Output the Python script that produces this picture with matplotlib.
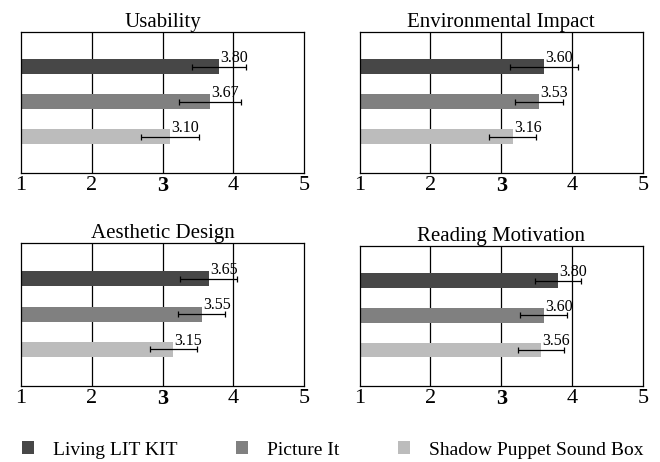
import matplotlib
matplotlib.use("Agg")
import matplotlib.pyplot as plt
from matplotlib.patches import Patch

plt.rcParams['font.family'] = ['Liberation Serif', 'DejaVu Serif']

# data
panels = ['Usability', 'Environmental Impact', 'Aesthetic Design', 'Reading Motivation']
products = ['Living LIT KIT', 'Picture It', 'Shadow Puppet Sound Box']
cores = ['#474747', '#808080', '#bcbcbc']

usability = [3.80, 3.67, 3.10]
environmental = [3.60, 3.53, 3.16]
aesthetic = [3.65, 3.55, 3.15]
reading = [3.80, 3.60, 3.56]

err_usability = [0.38, 0.44, 0.41]
err_environmental = [0.48, 0.34, 0.33]
err_aesthetic = [0.40, 0.33, 0.33]
err_reading = [0.33, 0.33, 0.33]

valores = [usability, environmental, aesthetic, reading]
erros = [err_usability, err_environmental, err_aesthetic, err_reading]
ticks = [1, 2, 3, 4, 5]

fig = plt.figure(figsize=(6.6, 4.62), dpi=100)

posicoes = [
  [0.032, 0.626, 0.429, 0.305],
  [0.545, 0.626, 0.429, 0.305],
  [0.032, 0.165, 0.429, 0.308],
  [0.545, 0.165, 0.429, 0.303],
]

ypos = [2, 1, 0]

for i in range(4):
  ax = fig.add_axes(posicoes[i])
  vals = valores[i]
  errs = erros[i]
  for j in range(3):
    # bars start at 1 (scale 1-5)
    ax.barh(ypos[j], vals[j] - 1, left=1, height=0.43, color=cores[j], zorder=2)
    ax.errorbar(vals[j], ypos[j], xerr=errs[j], fmt='none', ecolor='black',
                elinewidth=0.9, capsize=2.5, capthick=0.9, zorder=3)
    ax.text(vals[j] + 0.02, ypos[j] + 0.02, '%.2f' % vals[j], ha='left', va='bottom',
            fontsize=11.5, zorder=4)
  ax.set_xlim(1, 5)
  ax.set_ylim(-1.03, 3.0)
  ax.set_yticks([])
  ax.set_xticks(ticks)
  ax.set_xticklabels([str(t) for t in ticks], fontsize=16)
  ax.get_xticklabels()[2].set_fontweight('bold')
  ax.tick_params(axis='x', length=0, pad=2)
  for x in [2, 3, 4]:
    ax.axvline(x, color='black', linewidth=0.9, zorder=1)
  for s in ax.spines.values():
    s.set_linewidth(0.9)
  ax.set_title(panels[i], fontsize=15, pad=3)

# legenda: uma entrada por vez, espaçada como no original
leg_x = [22, 236, 398]
for k in range(3):
  h = Patch(facecolor=cores[k], edgecolor='none')
  leg = fig.legend([h], [products[k]], loc='center left',
                   bbox_to_anchor=(leg_x[k] / 660, 1 - 450 / 462),
                   frameon=False, fontsize=14, handlelength=0.6, handleheight=0.6,
                   handletextpad=1.0, borderpad=0, borderaxespad=0)

plt.savefig('out.png', dpi=100)
